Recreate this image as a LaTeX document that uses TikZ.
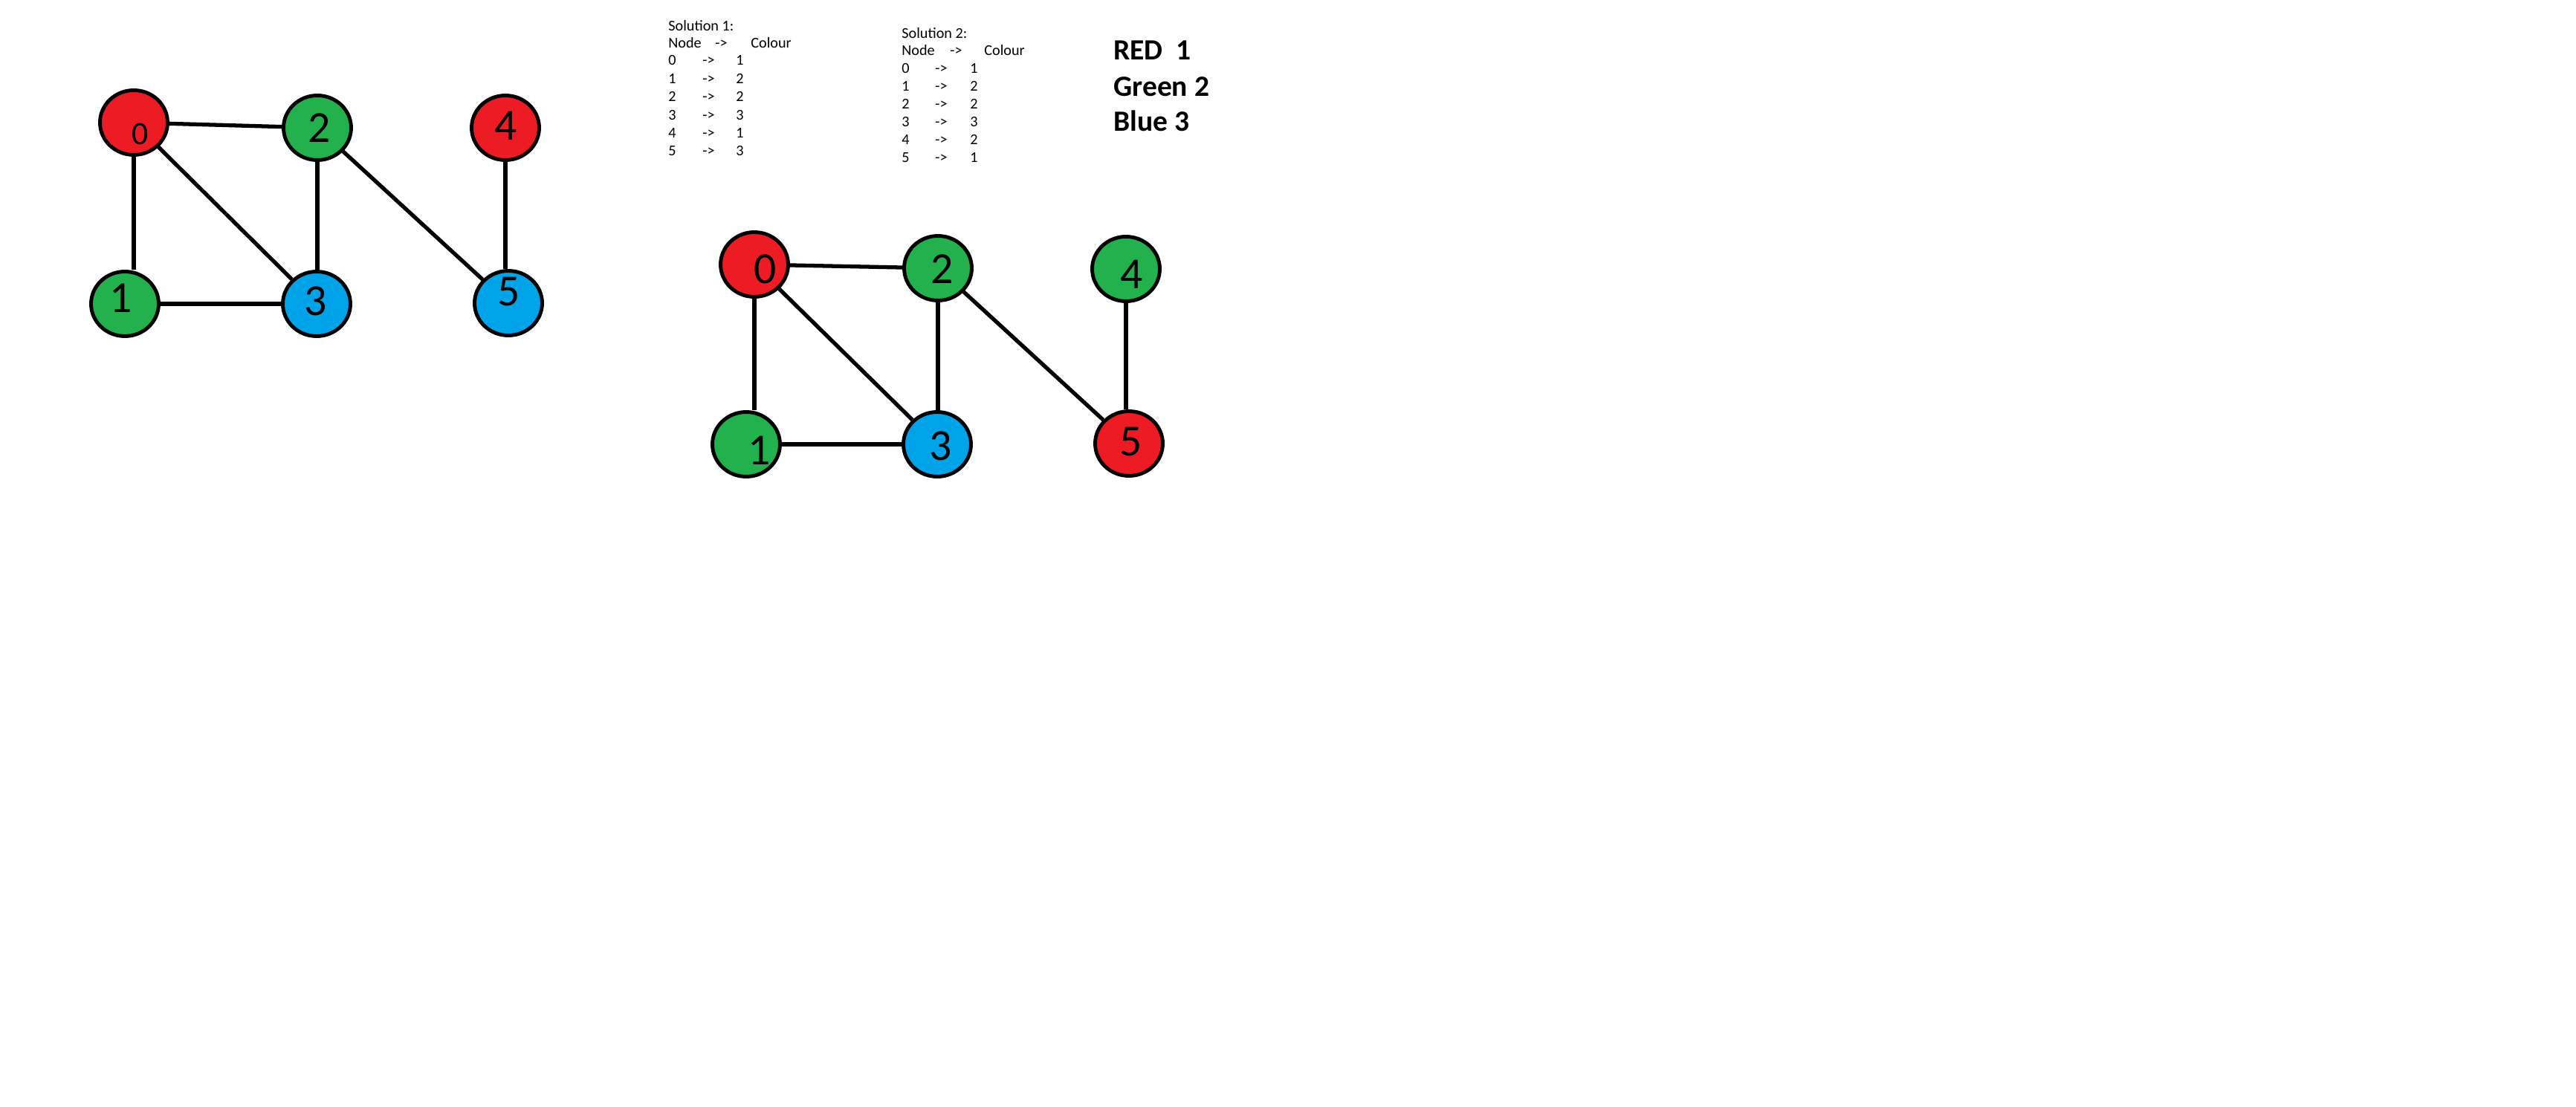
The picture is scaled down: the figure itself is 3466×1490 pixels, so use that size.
\documentclass[tikz,border=0pt]{standalone}
\usepackage{fontspec}
\setmainfont{Carlito}
\usetikzlibrary{calc,shapes.geometric}
\definecolor{pRed}{HTML}{ED1C24}
\definecolor{pGreen}{HTML}{22B14C}
\definecolor{pBlue}{HTML}{00A2E8}

\begin{document}
\begin{tikzpicture}[x=0.02cm,y=-0.02cm,
  v/.style={ellipse,draw=black,line width=2.8pt,minimum width=1.82cm,minimum height=1.74cm,inner sep=0pt},
  num/.style={inner sep=0pt,font=\fontsize{34}{34}\selectfont},
  ln/.style={line width=3pt},
  txt/.style={anchor=base west,inner sep=0pt,font=\fontsize{11.5}{12}\selectfont},
  key/.style={anchor=base west,inner sep=0pt,font=\fontsize{22.5}{24}\selectfont\bfseries}]
  \useasboundingbox (0,0) rectangle (3466,1490);
  % solution 1 graph
  \foreach \i/\x/\y/\c in {0/180/165/pRed,1/168/409/pGreen,2/427/172/pGreen,
      3/426/409/pBlue,4/680/172/pRed,5/684/408/pBlue}
    \node[v,fill=\c] (a\i) at (\x,\y) {};
  \node[num,font=\fontsize{25}{25}\selectfont] (la0) at ($(a0)+(9,15)$) {0};
  \foreach \i/\dx/\dy in {1/-5/-8,2/3/0,3/-1/-4,4/1/-3,5/1/-15}
    \node[num] (la\i) at ($(a\i)+(\dx,\dy)$) {\i};
  \foreach \u/\w in {0/1,2/3,4/5}
    \draw[ln] (a\u.south) -- (a\u.south |- a\w.north);
  \foreach \u/\w in {0/2,0/3,1/3,2/5}
    \draw[ln] (a\u) -- (a\w);
  % solution 2 graph
  \foreach \i/\x/\y/\c in {0/1015/356/pRed,1/1004/598/pGreen,2/1262/361/pGreen,
      3/1261/598/pBlue,4/1515/362/pGreen,5/1519/597/pRed}
    \node[v,fill=\c] (b\i) at (\x,\y) {};
  \foreach \i/\dx/\dy in {0/15/6,1/18/8,2/6/1,3/5/2,4/8/7,5/3/-2}
    \node[num] (lb\i) at ($(b\i)+(\dx,\dy)$) {\i};
  \foreach \u/\w in {0/1,2/3,4/5}
    \draw[ln] (b\u.south) -- (b\u.south |- b\w.north);
  \foreach \u/\w in {0/2,0/3,1/3,2/5}
    \draw[ln] (b\u) -- (b\w);
  % tables
  \node[txt] (t1) at (899,42) {Solution 1:};
  \node[txt] (t1h) at (899,65) {Node};
  \node[txt] (t1a) at (962,65) {->};
  \node[txt] (t1c) at (1010,65) {Colour};
  \foreach \n/\k [count=\r from 0] in {0/1,1/2,2/2,3/3,4/1,5/3} {
    \node[txt] (t1n\n) at (899,88+24.4*\r) {\n};
    \node[txt] (t1a\n) at (945,88+24.4*\r) {->};
    \node[txt] (t1k\n) at (990,88+24.4*\r) {\k};
  }
  \node[txt] (t2) at (1213,52) {Solution 2:};
  \node[txt] (t2h) at (1213,75) {Node};
  \node[txt] (t2a) at (1278,75) {->};
  \node[txt] (t2c) at (1324,75) {Colour};
  \foreach \n/\k [count=\r from 0] in {0/1,1/2,2/2,3/3,4/2,5/1} {
    \node[txt] (t2n\n) at (1213,99+24*\r) {\n};
    \node[txt] (t2a\n) at (1258,99+24*\r) {->};
    \node[txt] (t2k\n) at (1305,99+24*\r) {\k};
  }
  % colour key
  \node[key] (kr) at (1498,81) {RED\ \ 1};
  \node[key] (kg) at (1498,130) {Green 2};
  \node[key] (kb) at (1498,177) {Blue 3};
\end{tikzpicture}
\end{document}
